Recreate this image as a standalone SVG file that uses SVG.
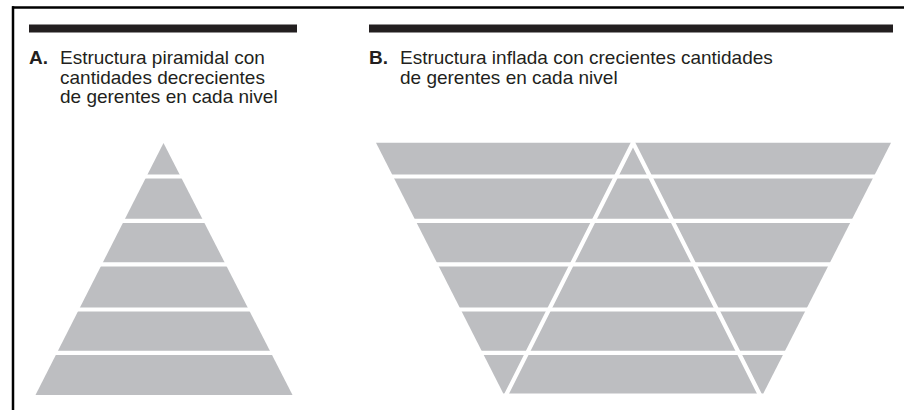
<svg xmlns="http://www.w3.org/2000/svg" width="904" height="410" viewBox="0 0 904 410">
  <style>
    .frame { stroke: #000; stroke-width: 2.5; fill: none; }
    .bar { fill: #231f20; }
    .shape { fill: #bdbec1; }
    .cut { stroke: #fff; stroke-width: 4.2; fill: none; }
    .t { font-family: "Liberation Sans", Arial, sans-serif; font-size: 19px; fill: #231f20; }
    .b { font-weight: bold; }
  </style>
  <rect width="904" height="410" fill="#fff"/>
  <g id="frame">
    <line class="frame" x1="12" y1="7.5" x2="904" y2="7.5"/>
    <line class="frame" x1="13" y1="6.3" x2="13" y2="410"/>
  </g>
  <g id="panelA">
    <rect class="bar" x="29" y="24.5" width="268" height="8"/>
    <text class="t" x="29" y="64"><tspan class="b">A.</tspan></text>
    <text class="t" x="60" y="64">Estructura piramidal con</text>
    <text class="t" x="60" y="83.5">cantidades decrecientes</text>
    <text class="t" x="60" y="103">de gerentes en cada nivel</text>
    <polygon class="shape" points="163.5,143 292.5,395 35.5,395"/>
    <g id="cutsA">
      <line class="cut" x1="25" y1="176.5" x2="305" y2="176.5"/>
      <line class="cut" x1="25" y1="220.8" x2="305" y2="220.8"/>
      <line class="cut" x1="25" y1="264.3" x2="305" y2="264.3"/>
      <line class="cut" x1="25" y1="309.5" x2="305" y2="309.5"/>
      <line class="cut" x1="25" y1="352.8" x2="305" y2="352.8"/>
    </g>
  </g>
  <g id="panelB">
    <rect class="bar" x="369" y="24.5" width="524" height="8"/>
    <text class="t" x="369" y="64"><tspan class="b">B.</tspan></text>
    <text class="t" x="400" y="64">Estructura inflada con crecientes cantidades</text>
    <text class="t" x="400" y="83.5">de gerentes en cada nivel</text>
    <polygon class="shape" points="376,142.7 891,142.7 763.3,393.5 503.3,393.5"/>
    <g id="cutsB">
      <line class="cut" x1="365" y1="176.5" x2="900" y2="176.5"/>
      <line class="cut" x1="365" y1="220.8" x2="900" y2="220.8"/>
      <line class="cut" x1="365" y1="264.3" x2="900" y2="264.3"/>
      <line class="cut" x1="365" y1="309.5" x2="900" y2="309.5"/>
      <line class="cut" x1="365" y1="352.8" x2="900" y2="352.8"/>
      <path class="cut" d="M504.5,398 L633,142.7 L761.5,398" stroke-linejoin="miter"/>
    </g>
  </g>
</svg>
